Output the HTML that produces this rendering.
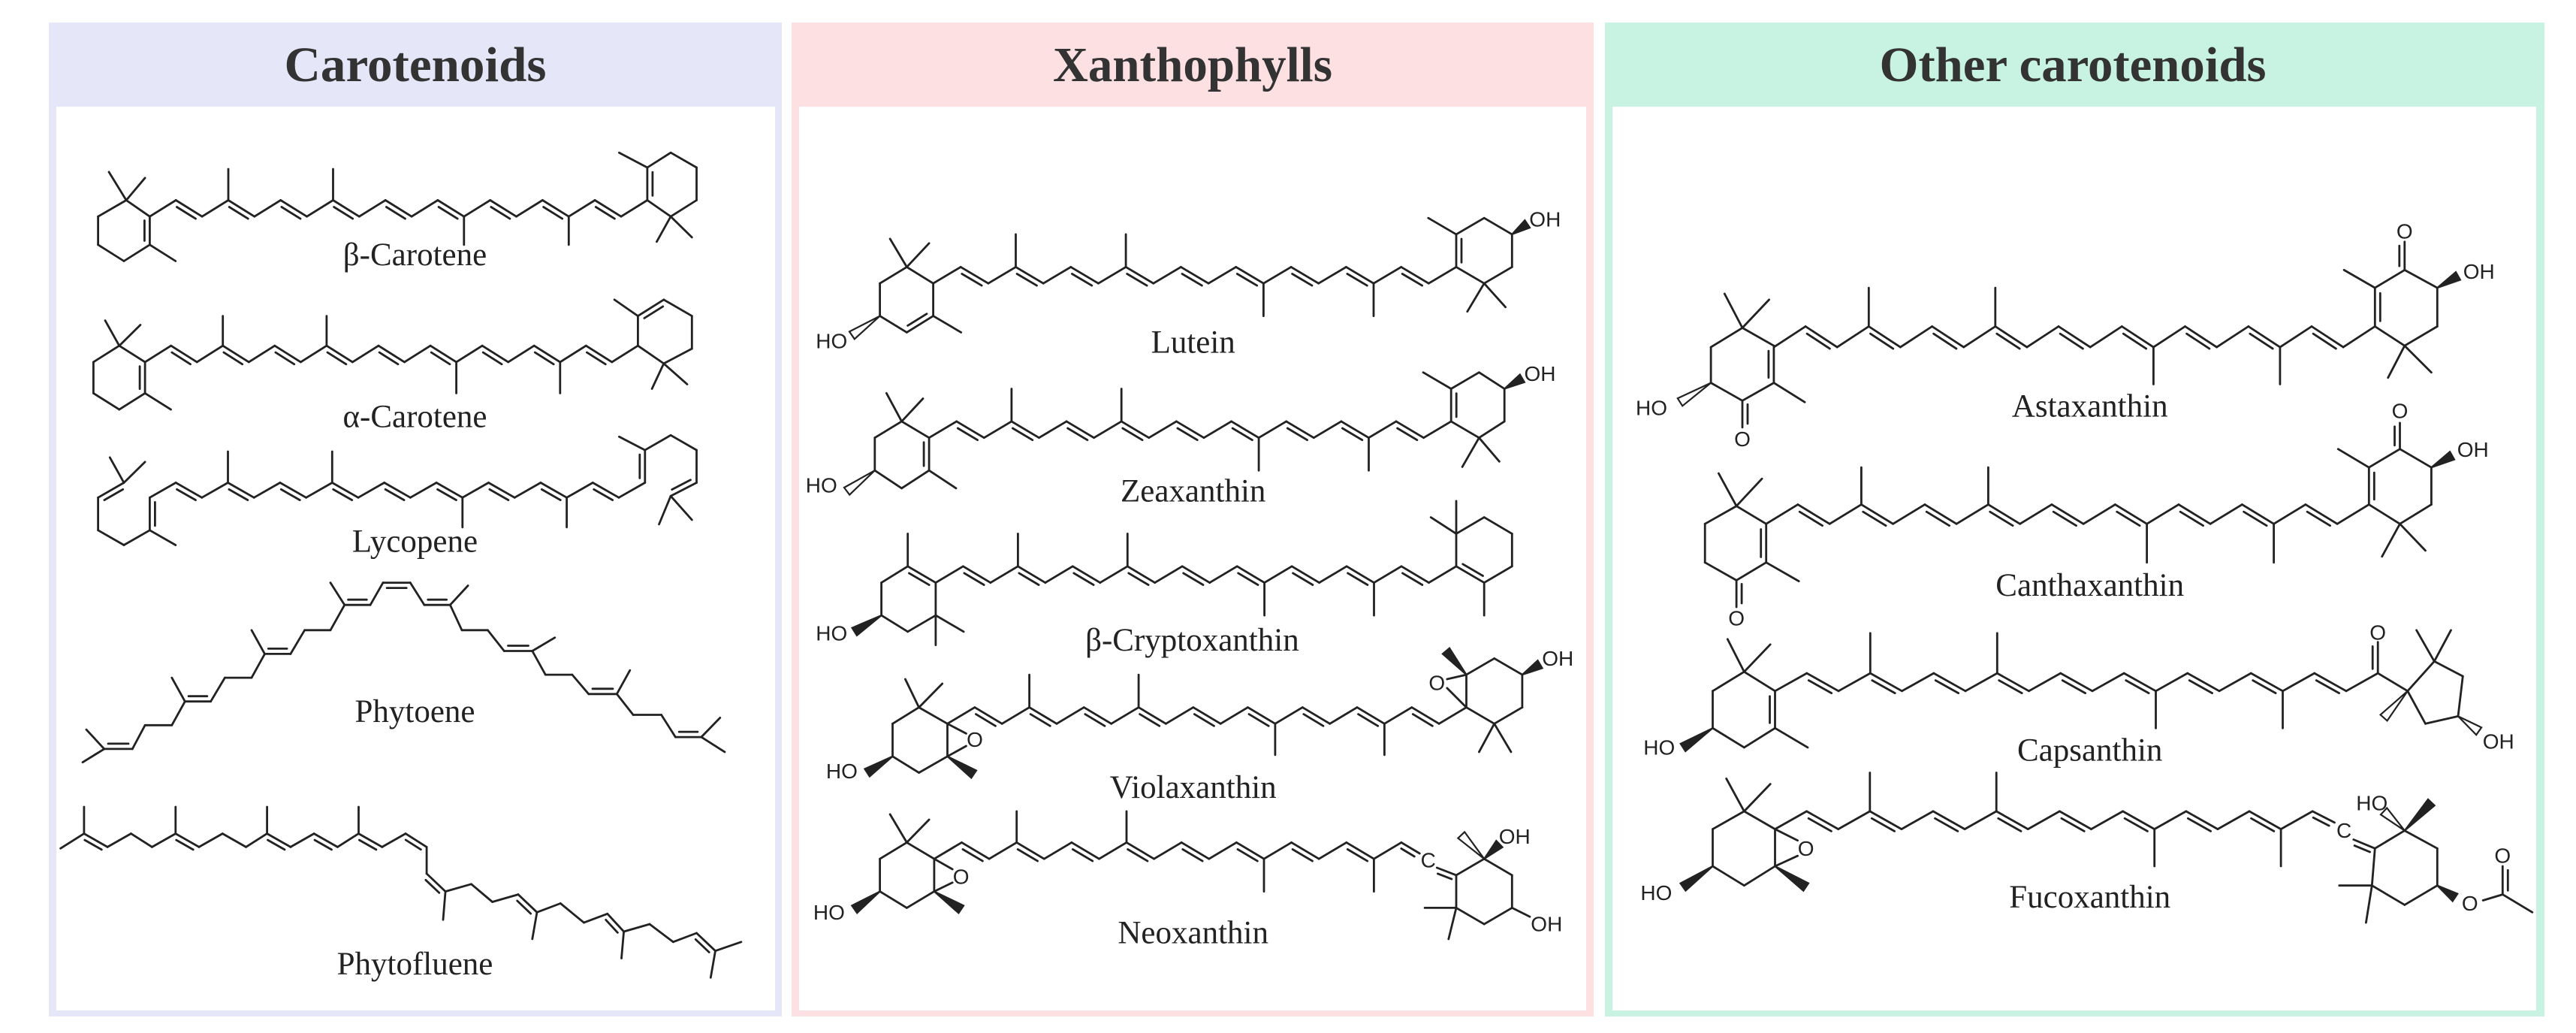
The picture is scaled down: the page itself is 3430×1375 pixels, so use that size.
<!DOCTYPE html>
<html><head><meta charset="utf-8"><style>html,body{margin:0;padding:0;background:#fff}svg{display:block}</style></head>
<body>
<svg id="s" xmlns="http://www.w3.org/2000/svg" width="3430" height="1375" viewBox="0 0 3430 1375">
<rect x="0" y="0" width="3430" height="1375" fill="#fff"/>
<rect x="65" y="30" width="976" height="1323" fill="#e5e7f8"/>
<rect x="75" y="142" width="957" height="1203" fill="#fff"/>
<rect x="1054" y="30" width="1068" height="1323" fill="#fde0e2"/>
<rect x="1064" y="142" width="1048" height="1203" fill="#fff"/>
<rect x="2137" y="30" width="1251" height="1323" fill="#c8f2e2"/>
<rect x="2147" y="142" width="1230" height="1203" fill="#fff"/>
<g font-family="Liberation Serif, serif" font-weight="bold" font-size="66" fill="#333" text-anchor="middle">
<text x="553" y="108" textLength="349" lengthAdjust="spacingAndGlyphs">Carotenoids</text>
<text x="1588" y="108" textLength="372" lengthAdjust="spacingAndGlyphs">Xanthophylls</text>
<text x="2760" y="108" textLength="515" lengthAdjust="spacingAndGlyphs">Other carotenoids</text>
</g>
<g id="m"></g>
</svg>
<script>
(function(){
var out='';
var ST='#222';
function T(o,p){return [o[0]+p[0]/o[2], o[1]+p[1]/o[3]];}
function f(v){return v.toFixed(1);}
function line(a,b){out+='<line x1="'+f(a[0])+'" y1="'+f(a[1])+'" x2="'+f(b[0])+'" y2="'+f(b[1])+'"/>';}
function dbl(a,b,c){
  line(a,b);
  var dx=b[0]-a[0],dy=b[1]-a[1],L=Math.sqrt(dx*dx+dy*dy);
  var nx=-dy/L,ny=dx/L;
  var mx=(a[0]+b[0])/2,my=(a[1]+b[1])/2;
  if(!c)c=[mx,my+1000];
  if((c[0]-mx)*nx+(c[1]-my)*ny<0){nx=-nx;ny=-ny;}
  var o=7,s=0.14;
  line([a[0]+dx*s+nx*o,a[1]+dy*s+ny*o],[b[0]-dx*s+nx*o,b[1]-dy*s+ny*o]);
}
function wedge(a,b,fill){
  var dx=b[0]-a[0],dy=b[1]-a[1],L=Math.sqrt(dx*dx+dy*dy);
  var nx=-dy/L*6,ny=dx/L*6;
  out+='<polygon points="'+f(a[0])+','+f(a[1])+' '+f(b[0]+nx)+','+f(b[1]+ny)+' '+f(b[0]-nx)+','+f(b[1]-ny)+'" fill="'+(fill?ST:'#fff')+'" stroke="'+ST+'" stroke-width="2.2"/>';
}
var texts='';
function txt(p,s,size,serif){
  texts+='<text x="'+f(p[0])+'" y="'+f(p[1])+'" font-size="'+size+'" font-family="'+(serif?'Liberation Serif, serif':'Liberation Sans, sans-serif')+'" text-anchor="middle" dominant-baseline="central" fill="#222">'+s+'</text>';
}
function mol(o,items){
  items.forEach(function(it){
    var k=it[0];
    if(k==='s'){line(T(o,it[1]),T(o,it[2]));}
    else if(k==='d'){dbl(T(o,it[1]),T(o,it[2]),it[3]?T(o,it[3]):null);}
    else if(k==='w'){wedge(T(o,it[1]),T(o,it[2]),true);}
    else if(k==='h'){wedge(T(o,it[1]),T(o,it[2]),false);}
    else if(k==='t'){txt(T(o,it[1]),it[2],it[3]||28,false);}
    else if(k==='L'){txt(T(o,it[1]),it[2],43,true);}
    else if(k==='r'){
      var P=it[1],D=it[2]||[],cx=0,cy=0;
      P.forEach(function(p){cx+=p[0];cy+=p[1];});cx/=P.length;cy/=P.length;
      for(var i=0;i<P.length;i++){
        var a=P[i],b=P[(i+1)%P.length];
        if(D.indexOf(i)>=0)mol(o,[['d',a,b,[cx,cy]]]);else mol(o,[['s',a,b]]);
      }
    }
    else if(k==='p'){
      var Q=it[1],DD=it[2]||[],sides=it[3]||{};
      for(var j=0;j<Q.length-1;j++){
        if(DD.indexOf(j)>=0)mol(o,[['d',Q[j],Q[j+1],sides[j]]]);else mol(o,[['s',Q[j],Q[j+1]]]);
      }
    }
  });
}
function chain(o,x0,x1,n,y0,y1,me,nd){
  var pts=[];
  for(var i=0;i<=n;i++)pts.push([x0+(x1-x0)*i/n,i%2?y1:y0]);
  var d=[];for(var k=1;k<(nd||n);k+=2)d.push(k);
  mol(o,[['p',pts,d]]);
  for(var key in me){var p=pts[key];mol(o,[['s',p,[p[0],me[key]]]]);}
}
var Z5=[65,140,1.6,2.53],Z6=[65,740,1.6,2.53],Z7=[1060,140,1.479,2.53],Z8=[1060,740,1.479,2.53],Z9=[2150,140,1.2645,2.53],Z10=[2150,740,1.2645,2.53];
var ZL=[65,20,1.6,2.53];

/* beta-carotene */
chain(Z5,215,1275,19,375,320,{3:215,7:215,12:470,16:470});
mol(Z5,[['r',[[165,320],[215,375],[215,470],[160,525],[105,470],[105,375]],[1]],
['s',[165,320],[128,225]],['s',[165,320],[205,245]],['s',[215,470],[270,525]],
['r',[[1275,320],[1275,210],[1325,160],[1380,210],[1380,320],[1325,375]],[0]],
['s',[1275,210],[1215,160]],['s',[1325,375],[1295,460]],['s',[1325,375],[1370,445]],
['L',[780,505],'β-Carotene']]);
/* alpha-carotene */
chain(Z5,205,1255,19,865,810,{3:710,7:710,12:970,16:970});
mol(Z5,[['r',[[150,810],[205,865],[205,970],[150,1025],[95,970],[95,865]],[1]],
['s',[150,810],[120,725]],['s',[150,810],[195,740]],['s',[205,970],[260,1025]],
['r',[[1255,810],[1255,710],[1310,655],[1370,710],[1370,820],[1310,870]],[1]],
['s',[1255,710],[1205,655]],['s',[1310,870],[1285,955]],['s',[1310,870],[1360,940]],
['L',[780,1050],'α-Carotene']]);
/* lycopene (shifted up) */
chain(ZL,215,1270,19,1625,1575,{3:1470,7:1470,12:1725,16:1725});
mol(ZL,[['d',[215,1625],[215,1735],[300,1680]],['s',[215,1735],[160,1785]],['s',[215,1735],[270,1785]],
['s',[160,1785],[105,1735]],['s',[105,1735],[105,1625]],['d',[105,1625],[160,1575],[200,1650]],
['s',[160,1575],[130,1490]],['s',[160,1575],[205,1505]],
['d',[1270,1575],[1270,1465],[1200,1520]],['s',[1270,1465],[1215,1420]],['s',[1270,1465],[1325,1415]],
['s',[1325,1415],[1380,1465]],['s',[1380,1465],[1380,1575]],['d',[1380,1575],[1325,1620],[1300,1560]],
['s',[1325,1620],[1300,1715]],['s',[1325,1620],[1370,1700]]]);
mol(Z5,[['L',[780,1470],'Lycopene']]);
/* phytoene */
var ph=[[118,650],[178,650],[205,570],[262,570],[290,490],[345,490],[375,410],[432,410],[460,330],[515,330],[545,250],[600,250],[630,165],[685,165],[712,90],[770,90],[800,165],[855,165],[880,250],[935,250],[970,320],[1030,320],[1058,400],[1115,400],[1150,465],[1210,465],[1245,535],[1305,535],[1335,610],[1390,610]];
var phd=[0,4,8,12,14,16,20,24,28],phs={};
phd.forEach(function(i){phs[i]=[(ph[i][0]+ph[i+1][0])/2,ph[i][1]-500];});
phs[14]=[740,600];
mol(Z6,[['p',ph,phd,phs],
['s',[118,650],[72,695]],['s',[118,650],[80,585]],['s',[290,490],[262,410]],['s',[460,330],[432,250]],
['s',[630,165],[600,90]],['s',[855,165],[893,100]],['s',[1030,320],[1078,275]],['s',[1210,465],[1238,385]],
['s',[1390,610],[1430,545]],['s',[1390,610],[1440,660]],
['L',[780,525],'Phytoene']]);
/* phytofluene */
var pf=[[75,935],[125,980],[175,935],[220,980],[270,935],[320,980],[370,935],[420,980],[465,935],[515,980],[565,935],[615,980],[660,935],[710,980],[760,935],[805,980],[805,1070],[845,1130],[900,1105],[945,1165],[1000,1140],[1040,1200],[1090,1170],[1140,1235],[1190,1205],[1225,1265],[1280,1240],[1330,1300],[1380,1270],[1420,1330]];
mol(Z6,[['p',pf,[0,4,8,10,12,14,16,20,24,28],{16:[700,1150]}],
['s',[75,935],[25,985]],['s',[75,935],[75,845]],['s',[270,935],[270,845]],['s',[465,935],[465,845]],
['s',[660,935],[660,845]],['s',[845,1130],[840,1225]],['s',[1040,1200],[1030,1290]],['s',[1225,1265],[1220,1355]],
['s',[1420,1330],[1475,1300]],['s',[1420,1330],[1410,1420]],
['L',[780,1375],'Phytofluene']]);

/* lutein */
chain(Z7,270,1300,19,600,545,{3:435,7:435,12:710,16:710});
mol(Z7,[['r',[[270,600],[218,545],[165,600],[165,710],[218,765],[270,710]],[4]],
['s',[218,545],[185,450]],['s',[218,545],[262,465]],['s',[270,710],[325,765]],['h',[165,710],[110,775]],['t',[70,795],'HO'],
['r',[[1300,545],[1300,435],[1355,380],[1410,435],[1410,545],[1355,600]],[0]],
['s',[1300,435],[1245,380]],['s',[1355,600],[1322,695]],['s',[1355,600],[1397,680]],['w',[1410,435],[1440,400]],['t',[1475,385],'OH'],
['L',[782,800],'Lutein']]);
/* zeaxanthin */
chain(Z7,262,1290,19,1120,1065,{3:955,7:955,12:1230,16:1230});
mol(Z7,[['r',[[262,1120],[208,1065],[155,1120],[155,1230],[208,1290],[262,1230]],[5]],
['s',[208,1065],[178,970]],['s',[208,1065],[250,988]],['s',[262,1230],[315,1290]],['h',[155,1230],[100,1300]],['t',[50,1280],'HO'],
['r',[[1290,1065],[1290,955],[1345,900],[1395,955],[1395,1065],[1345,1120]],[0]],
['s',[1290,955],[1235,900]],['s',[1345,1120],[1312,1218]],['s',[1345,1120],[1385,1200]],['w',[1395,955],[1430,920]],['t',[1465,905],'OH'],
['L',[782,1300],'Zeaxanthin']]);
/* beta-cryptoxanthin */
chain(Z8,275,1300,19,90,35,{3:-75,7:-75,12:200,16:200});
mol(Z8,[['r',[[220,35],[275,90],[275,200],[220,255],[168,200],[168,90]],[0]],
['s',[220,35],[220,-75]],['s',[275,200],[330,255]],['s',[275,200],[275,300]],['w',[168,200],[115,255]],['t',[70,260],'HO'],
['r',[[1300,35],[1355,90],[1410,35],[1410,-75],[1355,-130],[1300,-75]],[0]],
['s',[1355,90],[1355,200]],['s',[1300,-75],[1300,-185]],['s',[1300,-75],[1250,-130]],
['L',[780,285],'β-Cryptoxanthin']]);
/* violaxanthin */
chain(Z8,298,1320,19,565,510,{3:400,7:400,12:670,16:670});
mol(Z8,[['r',[[298,565],[242,510],[190,565],[190,675],[242,730],[298,675]],[]],
['s',[242,510],[215,415]],['s',[242,510],[288,430]],['w',[298,675],[350,735]],['w',[190,675],[140,730]],['t',[90,725],'HO'],
['s',[298,565],[335,598]],['s',[298,675],[335,640]],['t',[352,618],'O'],
['r',[[1320,510],[1320,400],[1375,345],[1430,400],[1430,510],[1375,565]],[]],
['w',[1320,400],[1280,320]],['s',[1320,400],[1282,415]],['s',[1320,510],[1282,445]],['t',[1262,428],'O'],
['w',[1430,400],[1465,365]],['t',[1500,345],'OH'],['s',[1375,565],[1345,660]],['s',[1375,565],[1408,660]],
['L',[782,780],'Violaxanthin']]);
/* neoxanthin */
chain(Z8,272,1192,17,1020,965,{3:860,7:860,12:1130,16:1130},16);
mol(Z8,[['r',[[272,1020],[218,965],[165,1020],[165,1130],[218,1185],[272,1130]],[]],
['s',[218,965],[185,870]],['s',[218,965],[262,888]],['w',[272,1130],[325,1190]],['w',[165,1130],[115,1190]],['t',[65,1200],'HO'],
['s',[272,1020],[308,1055]],['s',[272,1130],[308,1100]],['t',[325,1080],'O'],
['d',[1192,965],[1228,1002]],['t',[1245,1025],'C'],['d',[1262,1050],[1300,1075]],
['r',[[1300,1075],[1355,1020],[1410,1075],[1410,1185],[1355,1240],[1300,1185]],[]],
['w',[1355,1020],[1385,970]],['t',[1415,945],'OH'],['h',[1355,1020],[1310,940]],
['s',[1300,1185],[1238,1185]],['s',[1300,1185],[1285,1290]],['s',[1410,1185],[1445,1215]],['t',[1478,1240],'OH'],
['L',[782,1270],'Neoxanthin']]);

/* astaxanthin */
chain(Z9,268,1280,19,815,745,{3:615,7:615,12:940,16:940});
mol(Z9,[['r',[[215,750],[268,810],[268,935],[215,995],[162,935],[162,815]],[1]],
['s',[215,750],[185,635]],['s',[215,750],[260,655]],['s',[268,935],[320,1000]],['d',[215,995],[215,1085],[300,1040]],['t',[215,1125],'O'],
['h',[162,935],[110,1000]],['t',[62,1020],'HO'],
['r',[[1280,745],[1280,615],[1330,555],[1385,615],[1385,745],[1330,810]],[0]],
['s',[1280,615],[1228,555]],['d',[1330,555],[1330,460],[1250,500]],['t',[1330,425],'O'],['w',[1385,615],[1420,575]],['t',[1455,560],'OH'],
['s',[1330,810],[1302,918]],['s',[1330,810],[1375,900]],
['L',[800,1015],'Astaxanthin']]);
/* canthaxanthin */
chain(Z9,255,1270,19,1410,1345,{3:1220,7:1220,12:1540,16:1540});
mol(Z9,[['r',[[205,1350],[255,1410],[255,1540],[205,1600],[152,1540],[152,1410]],[1]],
['s',[205,1350],[175,1240]],['s',[205,1350],[248,1258]],['s',[255,1540],[310,1603]],['d',[205,1600],[205,1690],[290,1645]],['t',[205,1728],'O'],
['r',[[1270,1345],[1270,1220],[1322,1158],[1375,1220],[1375,1345],[1322,1410]],[0]],
['s',[1270,1220],[1218,1158]],['d',[1322,1158],[1322,1070],[1240,1110]],['t',[1322,1030],'O'],['w',[1375,1220],[1410,1180]],['t',[1445,1160],'OH'],
['s',[1322,1410],[1292,1520]],['s',[1322,1410],[1365,1500]]]);
mol(Z10,[['L',[800,100],'Canthaxanthin']]);
/* capsanthin */
chain(Z10,270,1285,19,455,395,{3:260,7:260,12:580,16:580},18);
mol(Z10,[['d',[1285,395],[1285,290],[1220,340]],['t',[1285,258],'O'],['s',[1285,395],[1335,455]],
['r',[[1335,455],[1380,355],[1428,405],[1420,540],[1365,565]],[]],
['s',[1380,355],[1350,250]],['s',[1380,355],[1408,250]],['h',[1335,455],[1295,545]],['h',[1420,540],[1455,590]],['t',[1488,625],'OH'],
['r',[[218,390],[270,455],[270,580],[218,645],[165,580],[165,455]],[1]],
['s',[218,390],[190,280]],['s',[218,390],[262,298]],['s',[270,580],[325,645]],['w',[165,580],[115,645]],['t',[75,645],'HO'],
['L',[800,655],'Capsanthin']]);
/* fucoxanthin */
chain(Z10,270,1175,17,920,860,{3:730,7:730,12:1045,16:1045},16);
mol(Z10,[['d',[1175,860],[1212,898]],['t',[1228,925],'C'],['d',[1244,955],[1280,985]],
['r',[[1280,985],[1330,925],[1385,985],[1385,1110],[1330,1175],[1275,1110]],[]],
['h',[1330,925],[1295,860]],['t',[1275,832],'HO'],['w',[1330,925],[1375,830]],['w',[1385,1110],[1415,1150]],['t',[1440,1170],'O'],
['s',[1462,1160],[1495,1140]],['d',[1495,1140],[1495,1045],[1560,1090]],['t',[1495,1010],'O'],['s',[1495,1140],[1545,1200]],
['s',[1275,1110],[1220,1110]],['s',[1275,1110],[1265,1235]],
['r',[[218,860],[270,920],[270,1045],[218,1110],[165,1045],[165,920]],[]],
['s',[218,860],[188,750]],['s',[218,860],[262,768]],['w',[270,1045],[322,1115]],['w',[165,1045],[115,1115]],['t',[70,1135],'HO'],
['s',[270,920],[308,958]],['s',[270,1045],[308,1010]],['t',[322,985],'O'],
['L',[800,1150],'Fucoxanthin']]);

document.getElementById('m').innerHTML='<g stroke="'+ST+'" stroke-width="2.8" stroke-linecap="round" fill="none">'+out+'</g>'+texts;
})();
</script>
</body></html>
